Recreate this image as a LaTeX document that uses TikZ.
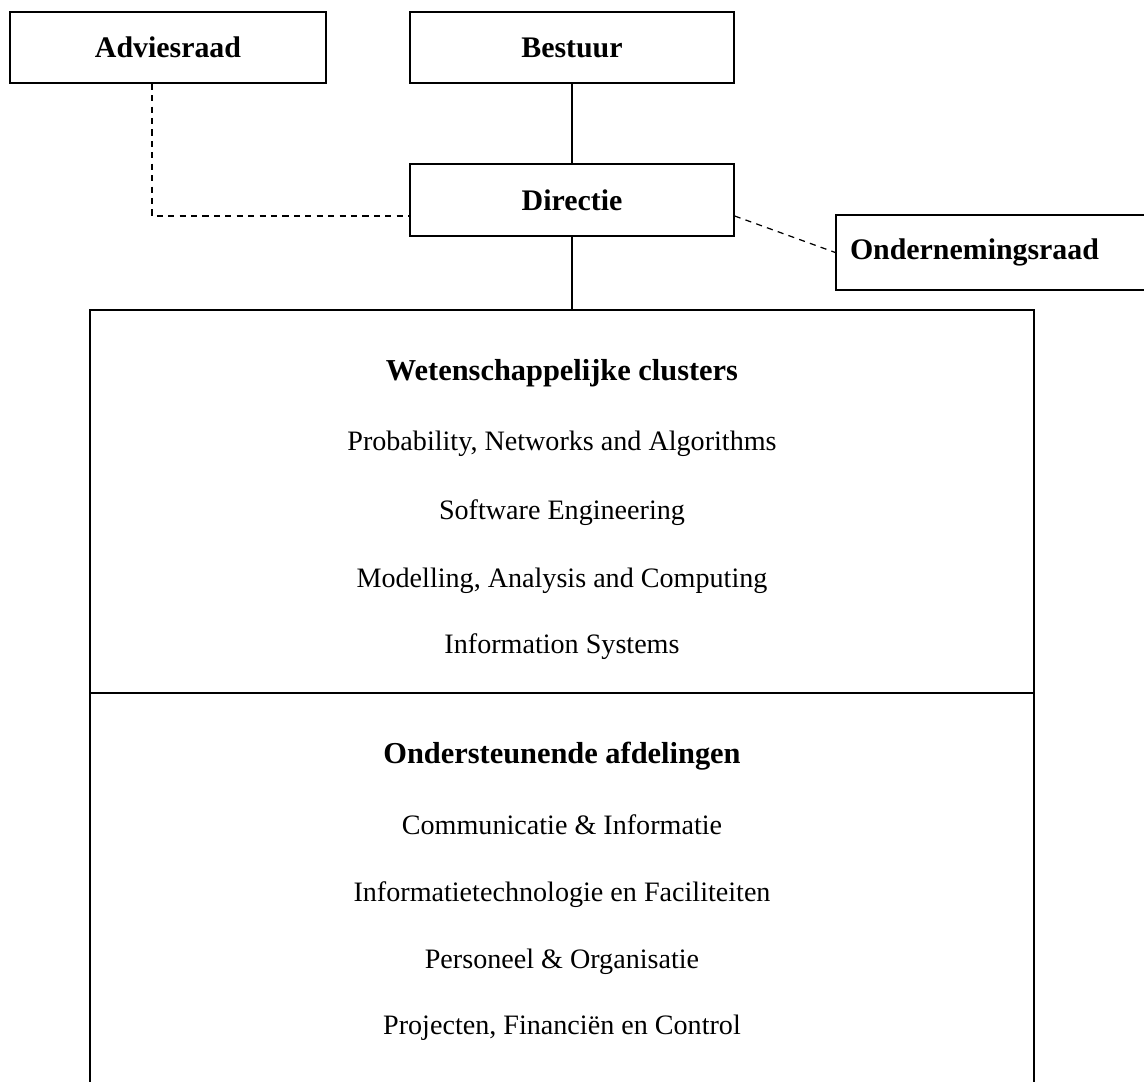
\documentclass[tikz,border=0pt]{standalone}
\usepackage{fontspec}
\setmainfont{Liberation Serif}
\usepackage{tikz}
\usetikzlibrary{positioning}

\tikzset{
  orgbox/.style={draw=black, line width=0.8pt, minimum width=6.48cm, minimum height=1.42cm, inner sep=0pt, font=\fontsize{17}{20}\selectfont\bfseries},
  panel/.style={draw=black, line width=0.8pt, minimum width=18.88cm, inner sep=0pt},
  kop/.style={anchor=base, font=\fontsize{17.3}{20}\selectfont\bfseries},
  regel/.style={anchor=base, font=\fontsize{16}{19}\selectfont},
  lijn/.style={line width=0.6pt},
  stippel/.style={line width=0.7pt, dash pattern=on 3.5pt off 3pt}
}

\begin{document}
\begin{tikzpicture}
				\useasboundingbox (0,0) rectangle (22.88,-21.64);
				\clip (0,0) rectangle (22.88,-21.64);

				%Nodes
				\node[orgbox, minimum width=6.32cm] (adviesraad) at (3.36,-0.95) {Adviesraad};
				\node[orgbox] (bestuur) at (11.44,-0.95) {Bestuur};
				\node[orgbox, minimum height=1.44cm] (directie) at (11.44,-4.0) {Directie};
				\node[orgbox, minimum height=1.5cm, text width=6.5cm, inner xsep=0.28cm, align=left] (or) at (20.25,-5.05) {Ondernemingsraad};

				\node[panel, minimum height=7.66cm] (clusters) at (11.24,-10.03) {};
				\node[panel, minimum height=8.54cm] (afdelingen) at (11.24,-18.13) {};

				%Texts
				\node[kop]   (wc)  at (11.24,-7.6)   {Wetenschappelijke clusters};
				\node[regel] (pna) at (11.24,-9.0)   {Probability, Networks and Algorithms};
				\node[regel] (se)  at (11.24,-10.38) {Software Engineering};
				\node[regel] (mac) at (11.24,-11.74) {Modelling, Analysis and Computing};
				\node[regel] (is)  at (11.24,-13.06) {Information Systems};

				\node[kop]   (oa)  at (11.24,-15.26) {Ondersteunende afdelingen};
				\node[regel] (ci)  at (11.24,-16.68) {Communicatie \& Informatie};
				\node[regel] (itf) at (11.24,-18.02) {Informatietechnologie en Faciliteiten};
				\node[regel] (po)  at (11.24,-19.36) {Personeel \& Organisatie};
				\node[regel] (pfc) at (11.24,-20.68) {Projecten, Financiën en Control};

				%Lines
				\coordinate (hoek) at (3.04,-4.32);
				\draw[lijn] (bestuur) -- (directie);
				\draw[lijn] (directie) -- (directie |- clusters.north);
				\draw[stippel] (adviesraad.south -| hoek) -- (hoek) -- (hoek -| directie.west);
				\draw[stippel] (hoek -| directie.east) -- (or.west);

			\end{tikzpicture}
\end{document}
